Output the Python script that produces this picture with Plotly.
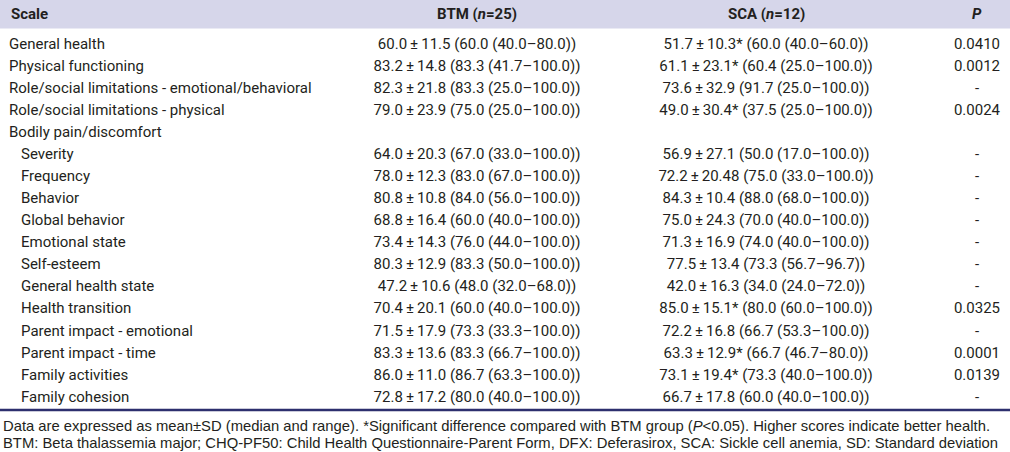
import plotly.graph_objects as go

# ---------------- data ----------------
scales = [
    "General health", "Physical functioning",
    "Role/social limitations - emotional/behavioral",
    "Role/social limitations - physical", "Bodily pain/discomfort",
    "Severity", "Frequency", "Behavior", "Global behavior", "Emotional state",
    "Self-esteem", "General health state", "Health transition",
    "Parent impact - emotional", "Parent impact - time",
    "Family activities", "Family cohesion",
]
indent_level = [0, 0, 0, 0, 0, 1, 1, 1, 1, 1, 1, 1, 1, 1, 1, 1, 1]

btm_mean = [60.0, 83.2, 82.3, 79.0, None, 64.0, 78.0, 80.8, 68.8, 73.4, 80.3, 47.2, 70.4, 71.5, 83.3, 86.0, 72.8]
btm_sd = [11.5, 14.8, 21.8, 23.9, None, 20.3, 12.3, 10.8, 16.4, 14.3, 12.9, 10.6, 20.1, 17.9, 13.6, 11.0, 17.2]
btm_median = [60.0, 83.3, 83.3, 75.0, None, 67.0, 83.0, 84.0, 60.0, 76.0, 83.3, 48.0, 60.0, 73.3, 83.3, 86.7, 80.0]
btm_min = [40.0, 41.7, 25.0, 25.0, None, 33.0, 67.0, 56.0, 40.0, 44.0, 50.0, 32.0, 40.0, 33.3, 66.7, 63.3, 40.0]
btm_max = [80.0, 100.0, 100.0, 100.0, None, 100.0, 100.0, 100.0, 100.0, 100.0, 100.0, 68.0, 100.0, 100.0, 100.0, 100.0, 100.0]

sca_mean = [51.7, 61.1, 73.6, 49.0, None, 56.9, 72.2, 84.3, 75.0, 71.3, 77.5, 42.0, 85.0, 72.2, 63.3, 73.1, 66.7]
sca_sd = [10.3, 23.1, 32.9, 30.4, None, 27.1, 20.48, 10.4, 24.3, 16.9, 13.4, 16.3, 15.1, 16.8, 12.9, 19.4, 17.8]
sca_median = [60.0, 60.4, 91.7, 37.5, None, 50.0, 75.0, 88.0, 70.0, 74.0, 73.3, 34.0, 80.0, 66.7, 66.7, 73.3, 60.0]
sca_min = [40.0, 25.0, 25.0, 25.0, None, 17.0, 33.0, 68.0, 40.0, 40.0, 56.7, 24.0, 60.0, 53.3, 46.7, 40.0, 40.0]
sca_max = [60.0, 100.0, 100.0, 100.0, None, 100.0, 100.0, 100.0, 100.0, 100.0, 96.7, 72.0, 100.0, 100.0, 80.0, 100.0, 100.0]
sca_significant = [True, True, False, True, False, False, False, False, False, False, False, False, True, False, True, True, False]

p_values = ["0.0410", "0.0012", "-", "0.0024", "", "-", "-", "-", "-", "-", "-", "-", "0.0325", "-", "0.0001", "0.0139", "-"]

column_headers = ["<b>Scale</b>", "<b>BTM (<i>n</i>=25)</b>", "<b>SCA (<i>n</i>=12)</b>", "<b><i>P</i></b>"]

footnotes = [
    "Data are expressed as mean±SD (median and range). *Significant difference compared with BTM group (<i>P</i>&lt;0.05). Higher scores indicate better health.",
    "BTM: Beta thalassemia major; CHQ-PF50: Child Health Questionnaire-Parent Form, DFX: Deferasirox, SCA: Sickle cell anemia, SD: Standard deviation",
]

# ---------------- formatting ----------------
def fmt(v):
    return f"{v:.2f}" if round(v, 1) != v else f"{v:.1f}"

def cell(mean, sd, med, lo, hi, star=False):
    if mean is None:
        return ""
    s = "*" if star else ""
    return f"{fmt(mean)}\u2009±\u2009{fmt(sd)}{s} ({fmt(med)} ({fmt(lo)}\u2013{fmt(hi)}))"

btm_text = [cell(*a) for a in zip(btm_mean, btm_sd, btm_median, btm_min, btm_max)]
sca_text = [cell(*a) for a in zip(sca_mean, sca_sd, sca_median, sca_min, sca_max, sca_significant)]

# ---------------- layout constants ----------------
W, H = 1010, 452
ROW0, ROWSTEP = 45.0, 22.06
X_LABEL, X_INDENT = 9, 21
X_BTM, X_SCA, X_P = 477, 766, 977
TEXT_COLOR = "#231f20"
BODY_FONT = "Roboto, Liberation Sans Narrow, sans-serif"
NOTE_FONT = "Liberation Sans, Arial, sans-serif"
LABEL_SIZE, VALUE_SIZE, HEAD_SIZE, NOTE_SIZE = 15, 15, 15, 14.8

row_idx = list(range(len(scales)))

fig = go.Figure()
label_x = [X_INDENT if lvl else X_LABEL for lvl in indent_level]
fig.add_trace(go.Scatter(x=label_x, y=row_idx, mode="text", text=scales,
                         textposition="middle right",
                         textfont=dict(family=BODY_FONT, size=LABEL_SIZE, color=TEXT_COLOR),
                         hoverinfo="skip", showlegend=False))
for xc, col in [(X_BTM, btm_text), (X_SCA, sca_text), (X_P, p_values)]:
    fig.add_trace(go.Scatter(x=[xc] * len(row_idx), y=row_idx, mode="text", text=col,
                             textposition="middle center",
                             textfont=dict(family=BODY_FONT, size=VALUE_SIZE, color=TEXT_COLOR),
                             hoverinfo="skip", showlegend=False))

# header band & text
HEADER_BOTTOM = 28.5
fig.add_shape(type="rect", xref="paper", yref="paper", x0=0, x1=1,
              y0=1 - HEADER_BOTTOM / H, y1=1, fillcolor="#d6d6ea", line_width=0, layer="below")
header_y = 1 - 14.5 / H
for hx, txt, anchor in zip([X_LABEL, X_BTM, X_SCA, X_P], column_headers, ["left", "center", "center", "center"]):
    fig.add_annotation(x=hx, y=header_y, xref="x", yref="paper", text=txt, showarrow=False,
                       xanchor=anchor, yanchor="middle",
                       font=dict(family=BODY_FONT, size=HEAD_SIZE, color="#231f20"))

# bottom rule
LINE_Y = 410
fig.add_shape(type="line", xref="paper", yref="paper", x0=0, x1=1,
              y0=1 - LINE_Y / H, y1=1 - LINE_Y / H, line=dict(color="#2d2f6e", width=2.5))

# footnotes
for t, yy in zip(footnotes, [425.5, 443]):
    fig.add_annotation(x=1 / W, y=1 - yy / H, xref="paper", yref="paper", text=t, showarrow=False,
                       xanchor="left", yanchor="middle",
                       font=dict(family=NOTE_FONT, size=NOTE_SIZE, color="#231f20"))

fig.update_layout(
    width=W, height=H, margin=dict(l=0, r=0, t=0, b=0),
    paper_bgcolor="white", plot_bgcolor="white",
    xaxis=dict(range=[0, W], visible=False, fixedrange=True),
    yaxis=dict(range=[(H - ROW0) / ROWSTEP, -ROW0 / ROWSTEP], visible=False, fixedrange=True),
)

fig.write_html("out.html", config={"displayModeBar": False},
               post_script="document.body.style.margin='0';document.body.style.overflow='hidden';")
